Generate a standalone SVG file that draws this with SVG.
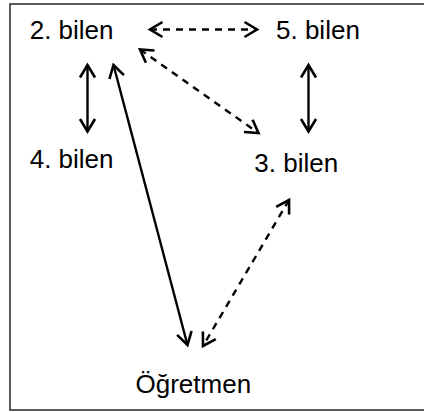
<svg xmlns="http://www.w3.org/2000/svg" width="424" height="412" viewBox="0 0 424 412">
  <style>
    .label { font-family: "Liberation Sans", Arial, sans-serif; font-size: 26px; fill: #000; }
    .link { stroke: #000; stroke-width: 2.4; fill: none; }
    .dashed { stroke-dasharray: 7 6; }
  </style>
  <defs>
    <!-- open V arrowhead, reused at both ends of every connector -->
    <marker id="head" markerUnits="userSpaceOnUse" markerWidth="20" markerHeight="20" refX="14" refY="10" orient="auto-start-reverse" viewBox="0 0 20 20">
      <path d="M1.5,2.5 L14,10 L1.5,17.5" fill="none" stroke="#000" stroke-width="2.6" stroke-linejoin="miter"/>
    </marker>
  </defs>

  <rect x="10" y="4" width="420" height="406" fill="#fff" stroke="#333" stroke-width="1.6"/>

  <g id="connectors">
    <line class="link dashed" x1="150" y1="29.5" x2="257" y2="29.5" marker-start="url(#head)" marker-end="url(#head)"/>
    <line class="link" x1="87.5" y1="65" x2="87.5" y2="131.5" marker-start="url(#head)" marker-end="url(#head)"/>
    <line class="link" x1="308.5" y1="65" x2="308.5" y2="131.5" marker-start="url(#head)" marker-end="url(#head)"/>
    <line class="link dashed" x1="140" y1="49.5" x2="258.5" y2="133" marker-start="url(#head)" marker-end="url(#head)"/>
    <line class="link" x1="113.5" y1="65" x2="187.5" y2="345" marker-start="url(#head)" marker-end="url(#head)"/>
    <line class="link dashed" x1="289" y1="200" x2="203" y2="346" marker-start="url(#head)" marker-end="url(#head)"/>
  </g>

  <g id="node-2"><text class="label" x="29.7" y="39">2. bilen</text></g>
  <g id="node-5"><text class="label" x="276" y="39">5. bilen</text></g>
  <g id="node-4"><text class="label" x="29.7" y="168">4. bilen</text></g>
  <g id="node-3"><text class="label" x="254.3" y="171.7">3. bilen</text></g>
  <g id="node-teacher"><text class="label" x="135.5" y="392.7">Öğretmen</text></g>
</svg>
